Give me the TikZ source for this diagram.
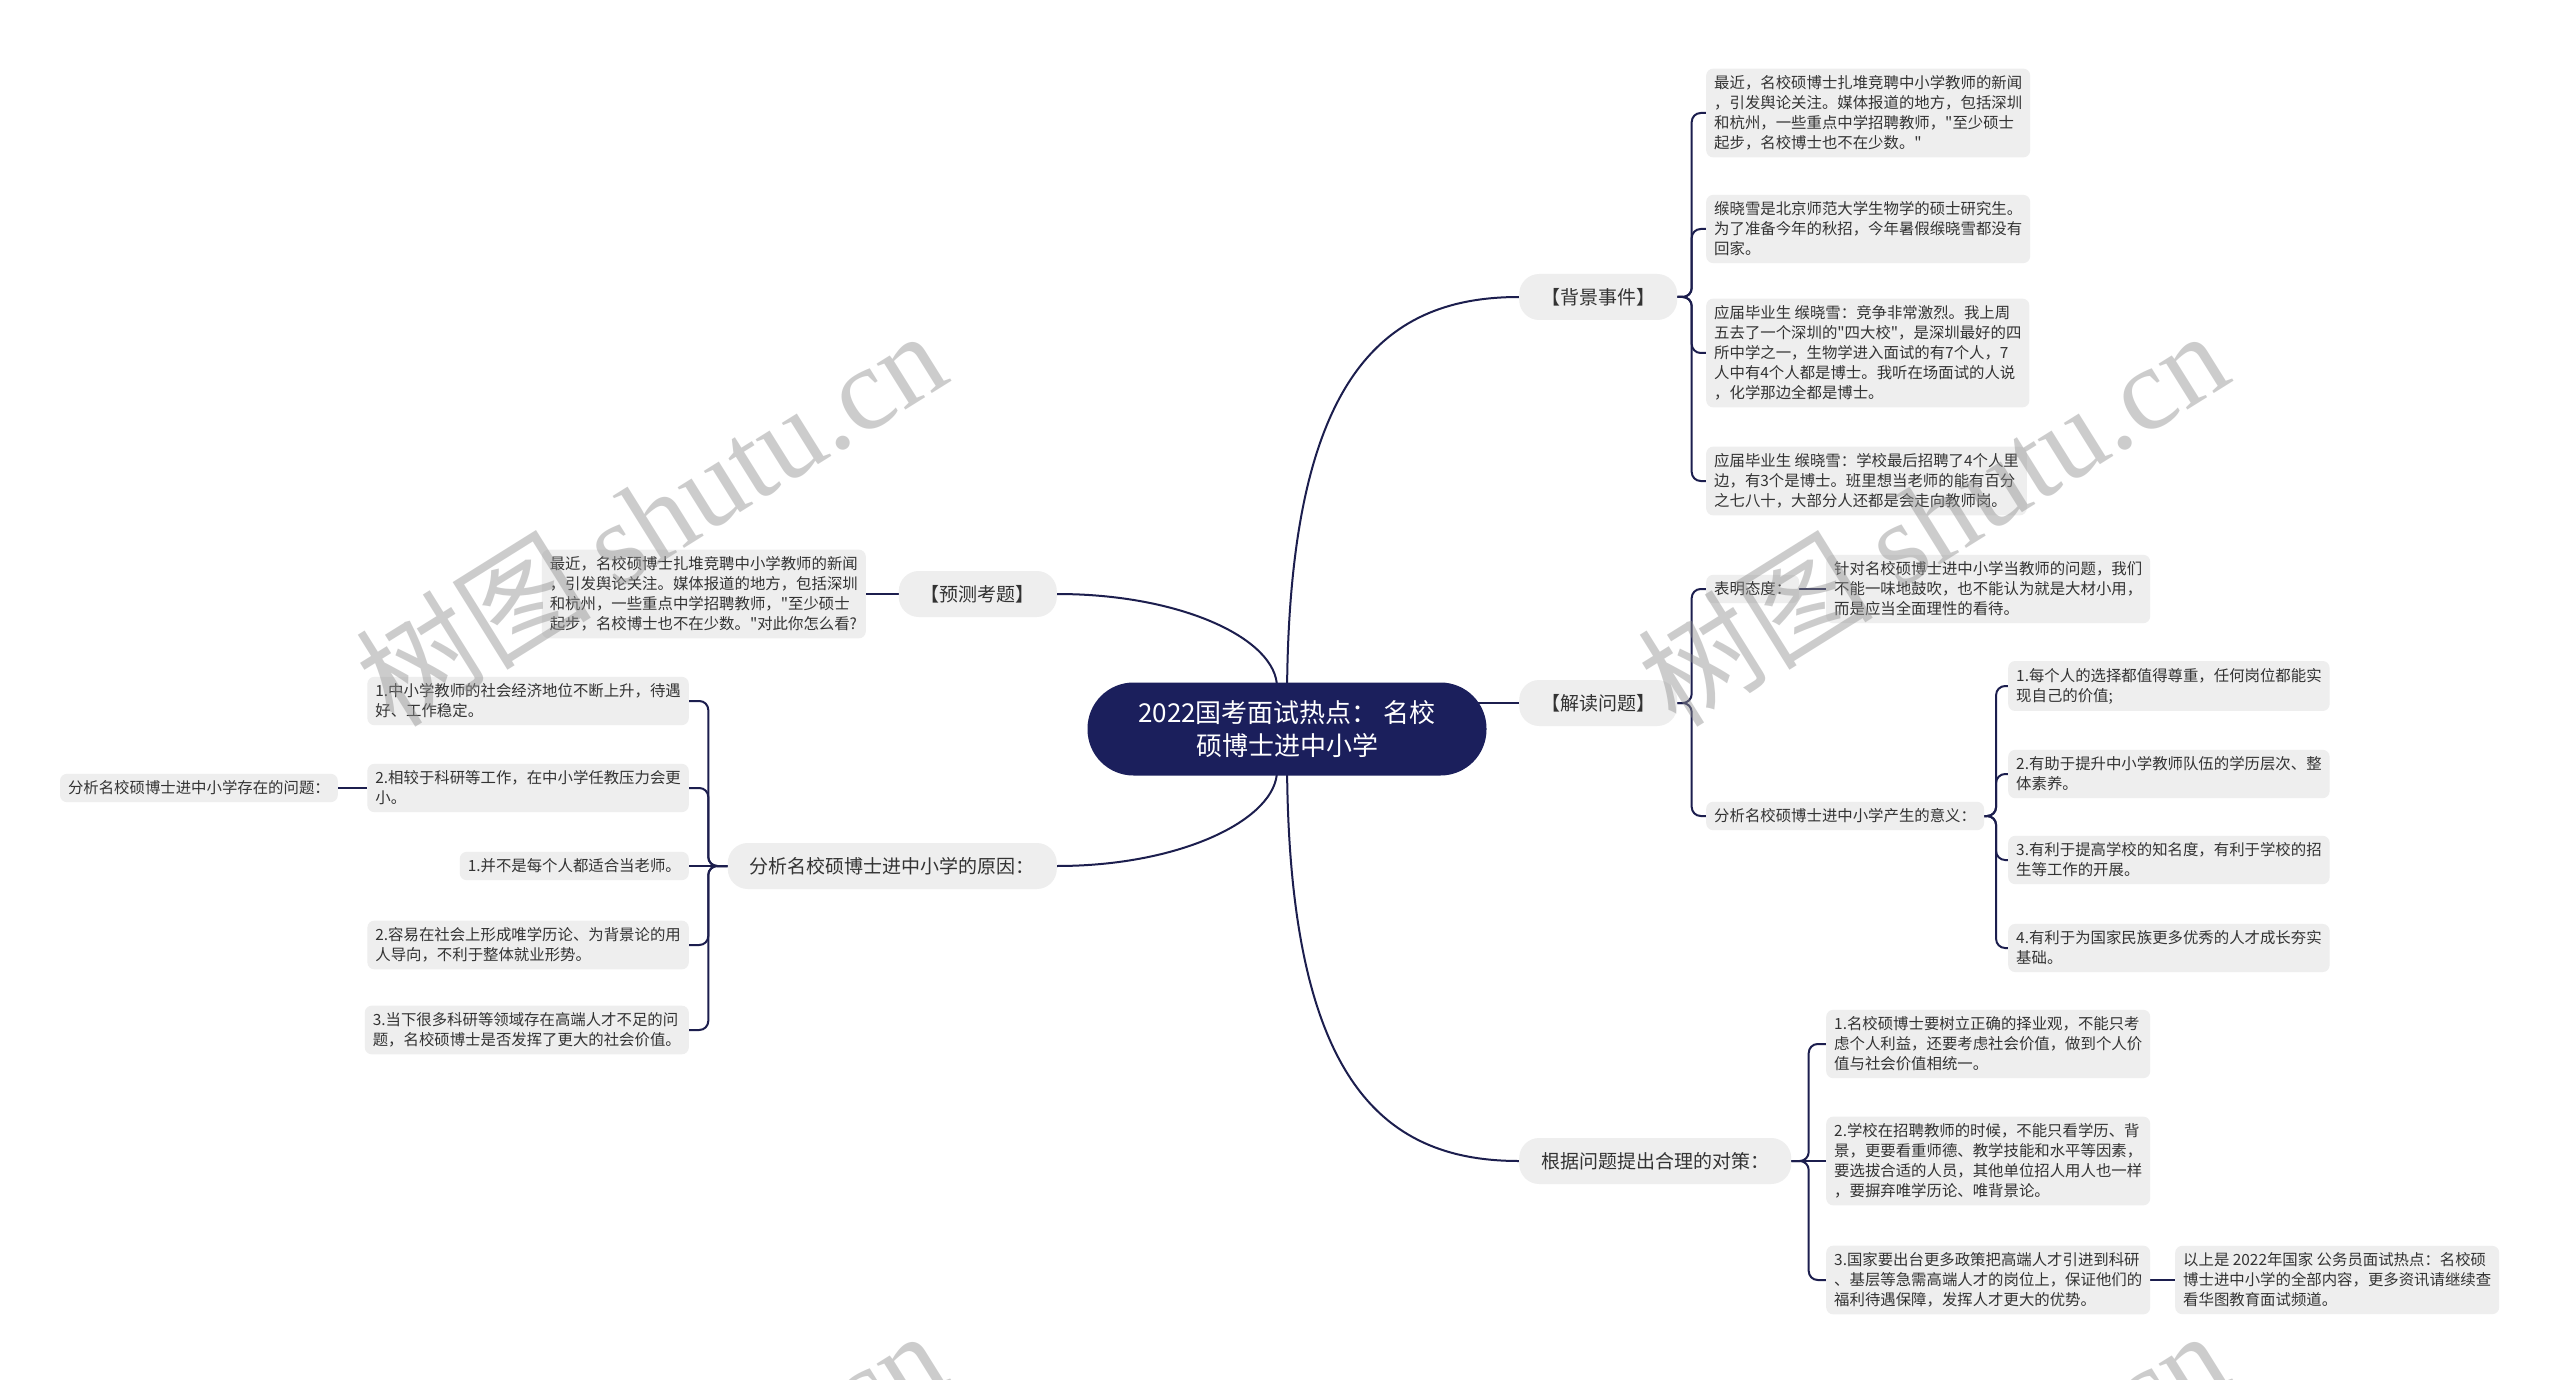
\documentclass[tikz,border=0pt]{standalone}
\usepackage{fontspec}
\setmainfont{Noto Sans CJK SC}[Ligatures=TeXOff]
\newfontfamily\wmserif{Liberation Serif}[Ligatures=TeXOff]
\usetikzlibrary{calc,backgrounds}
\definecolor{navy}{HTML}{1B1F5C}
\definecolor{boxgray}{HTML}{EEEEEE}
\definecolor{txt}{HTML}{333333}
\definecolor{linec}{HTML}{1C1E4E}
\definecolor{wmc}{HTML}{909090}
\begin{document}
\begin{tikzpicture}[x=1pt,y=-1pt,
  centerbox/.style={fill=navy,text=white,rounded corners=46pt,minimum width=399pt,minimum height=93pt,align=center,font=\fontsize{26}{33}\selectfont},
  mainbox/.style={fill=boxgray,text=txt,rounded corners=20pt,minimum height=46pt,inner xsep=22pt,font=\fontsize{19}{24}\selectfont},
  leafbox/.style={fill=boxgray,text=txt,rounded corners=7pt,inner xsep=8pt,inner ysep=7pt,align=left,font=\fontsize{15.4}{20}\selectfont},
  conn/.style={draw=linec,line width=2pt},
  bracec/.style={conn,rounded corners=9pt},
  wmark/.style={text=wmc,text opacity=0.45,rotate=32,font=\fontsize{118}{118}\selectfont}
]
\useasboundingbox (0,0) rectangle (2560,1380);

% center
\node[centerbox] (c) at (1287,729) {2022国考面试热点： 名校\\硕博士进中小学};

% level 1
\node[mainbox,anchor=west] (bj) at (1519,297) {【背景事件】};
\node[mainbox,anchor=west] (jd) at (1519,703) {【解读问题】};
\node[mainbox,anchor=west] (dc) at (1519,1161) {根据问题提出合理的对策：};
\node[mainbox,anchor=east] (yc) at (1057,594) {【预测考题】};
\node[mainbox,anchor=east] (yy) at (1057,866) {分析名校硕博士进中小学的原因：};

% background events
\node[leafbox,anchor=west] (bj1) at (1706,113) {最近，名校硕博士扎堆竞聘中小学教师的新闻\\，引发舆论关注。媒体报道的地方，包括深圳\\和杭州，一些重点中学招聘教师，"至少硕士\\起步，名校博士也不在少数。"};
\node[leafbox,anchor=west] (bj2) at (1706,229) {缑晓雪是北京师范大学生物学的硕士研究生。\\为了准备今年的秋招，今年暑假缑晓雪都没有\\回家。};
\node[leafbox,anchor=west] (bj3) at (1706,353) {应届毕业生 缑晓雪：竞争非常激烈。我上周\\五去了一个深圳的"四大校"，是深圳最好的四\\所中学之一，生物学进入面试的有7个人，7\\人中有4个人都是博士。我听在场面试的人说\\，化学那边全都是博士。};
\node[leafbox,anchor=west] (bj4) at (1706,481) {应届毕业生 缑晓雪：学校最后招聘了4个人里\\边，有3个是博士。班里想当老师的能有百分\\之七八十，大部分人还都是会走向教师岗。};

% interpretation
\node[leafbox,anchor=west] (td) at (1706,589) {表明态度：};
\node[leafbox,anchor=west] (td1) at (1826,589) {针对名校硕博士进中小学当教师的问题，我们\\不能一味地鼓吹，也不能认为就是大材小用，\\而是应当全面理性的看待。};
\node[leafbox,anchor=west] (yiy) at (1706,816) {分析名校硕博士进中小学产生的意义：};
\node[leafbox,anchor=west] (yi1) at (2008,686) {1.每个人的选择都值得尊重，任何岗位都能实\\现自己的价值;};
\node[leafbox,anchor=west] (yi2) at (2008,774) {2.有助于提升中小学教师队伍的学历层次、整\\体素养。};
\node[leafbox,anchor=west] (yi3) at (2008,860) {3.有利于提高学校的知名度，有利于学校的招\\生等工作的开展。};
\node[leafbox,anchor=west] (yi4) at (2008,948) {4.有利于为国家民族更多优秀的人才成长夯实\\基础。};

% countermeasures
\node[leafbox,anchor=west] (dc1) at (1826,1044) {1.名校硕博士要树立正确的择业观，不能只考\\虑个人利益，还要考虑社会价值，做到个人价\\值与社会价值相统一。};
\node[leafbox,anchor=west] (dc2) at (1826,1161) {2.学校在招聘教师的时候，不能只看学历、背\\景，更要看重师德、教学技能和水平等因素，\\要选拔合适的人员，其他单位招人用人也一样\\，要摒弃唯学历论、唯背景论。};
\node[leafbox,anchor=west] (dc3) at (1826,1280) {3.国家要出台更多政策把高端人才引进到科研\\、基层等急需高端人才的岗位上，保证他们的\\福利待遇保障，发挥人才更大的优势。};
\node[leafbox,anchor=west] (dc3a) at (2175,1280) {以上是 2022年国家 公务员面试热点：名校硕\\博士进中小学的全部内容，更多资讯请继续查\\看华图教育面试频道。};

% prediction
\node[leafbox,anchor=east] (yc1) at (866,594) {最近，名校硕博士扎堆竞聘中小学教师的新闻\\，引发舆论关注。媒体报道的地方，包括深圳\\和杭州，一些重点中学招聘教师，"至少硕士\\起步，名校博士也不在少数。"对此你怎么看?};

% reasons
\node[leafbox,anchor=east] (r1) at (689,701) {1.中小学教师的社会经济地位不断上升，待遇\\好、工作稳定。};
\node[leafbox,anchor=east] (r2) at (689,788) {2.相较于科研等工作，在中小学任教压力会更\\小。};
\node[leafbox,anchor=east] (r2a) at (338,788) {分析名校硕博士进中小学存在的问题：};
\node[leafbox,anchor=east] (r3) at (689,866) {1.并不是每个人都适合当老师。};
\node[leafbox,anchor=east] (r4) at (689,945) {2.容易在社会上形成唯学历论、为背景论的用\\人导向，不利于整体就业形势。};
\node[leafbox,anchor=east] (r5) at (689,1030) {3.当下很多科研等领域存在高端人才不足的问\\题，名校硕博士是否发挥了更大的社会价值。};

\begin{scope}[on background layer]
\fill[white] (0,0) rectangle (2560,1380);
% main branches
\draw[conn] ($(c.north)+(0,20)$) .. controls +(0,-320) and +(-140,0) .. (bj.west);
\draw[conn] ($(c.south)+(0,-20)$) .. controls +(0,320) and +(-140,0) .. (dc.west);
\draw[conn] ($(c.east|-jd.west)+(-40,0)$) -- (jd.west);
\draw[conn] ($(c.north)+(-10,5)$) .. controls +(0,-48) and +(125,0) .. (yc.east);
\draw[conn] ($(c.south)+(-10,-5)$) .. controls +(0,48) and +(125,0) .. (yy.east);
% groups
\foreach \k in {bj1,bj2,bj3,bj4}
  \draw[bracec] (bj.east) -- ($(bj.east)!0.5!(bj.east-|\k.west)$) |- (\k.west);
\foreach \k in {td,yiy}
  \draw[bracec] (jd.east) -- ($(jd.east)!0.5!(jd.east-|\k.west)$) |- (\k.west);
\draw[conn] (td.east) -- (td1.west);
\foreach \k in {yi1,yi2,yi3,yi4}
  \draw[bracec] (yiy.east) -- ($(yiy.east)!0.5!(yiy.east-|\k.west)$) |- (\k.west);
\foreach \k in {dc1,dc3}
  \draw[bracec] (dc.east) -- ($(dc.east)!0.5!(dc.east-|\k.west)$) |- (\k.west);
\draw[conn] (dc.east) -- (dc2.west);
\draw[conn] (dc3.east) -- (dc3a.west);
\draw[conn] (yc.west) -- (yc1.east);
\foreach \k in {r1,r2,r4,r5}
  \draw[bracec] (yy.west) -- ($(yy.west)!0.5!(yy.west-|\k.east)$) |- (\k.east);
\draw[conn] (yy.west) -- (r3.east);
\draw[conn] (r2.west) -- (r2a.east);
\end{scope}

% watermarks
\begin{scope}
\clip (0,0) rectangle (2560,1380);
\foreach \x/\y in {650/517,1932/517,650/1517,1932/1517}
  \node[wmark] (wm\x\y) at (\x,\y) {树图 {\wmserif shutu.cn}};
\end{scope}
\end{tikzpicture}
\end{document}
